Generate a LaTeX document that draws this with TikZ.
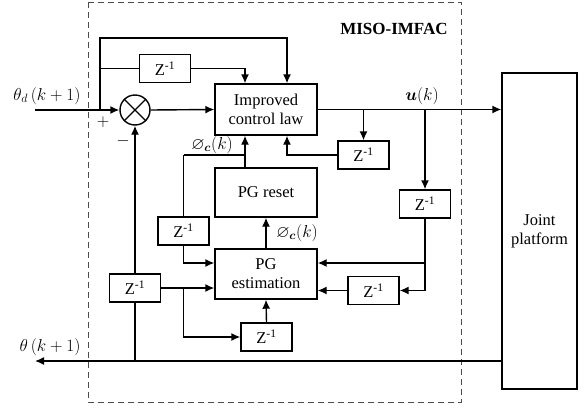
\documentclass[tikz,border=0pt]{standalone}
\usepackage{amsmath,amssymb}
\usepackage{fontspec}
\setmainfont{Liberation Serif}
\usetikzlibrary{arrows.meta,calc}
\begin{document}
\begin{tikzpicture}[x=1pt,y=-1pt,
  line width=1.4pt,
  blk/.style={draw, line width=1.4pt, align=center, inner sep=0pt, font=\fontsize{16.5}{19}\selectfont},
  zbox/.style={blk, minimum width=51, minimum height=28},
  arr/.style={-{Latex[length=9pt,width=8pt]}},
  lbl/.style={font=\fontsize{17}{19}\selectfont, inner sep=0pt}
]
\useasboundingbox (0,0) rectangle (584,410);
% dashed frame
\draw[dash pattern=on 6pt off 4pt, line width=1pt, black!70] (88,2) rectangle (461,402);
\node[font=\bfseries\fontsize{17}{19}\selectfont] (title) at (394,29) {MISO-IMFAC};

% blocks
\node[blk, minimum width=102, minimum height=51] (icl) at (266,109.5) {Improved\\control law};
\node[blk, minimum width=102, minimum height=49] (pgr) at (266,192.5) {PG reset};
\node[blk, minimum width=102, minimum height=50] (pge) at (266,274) {PG\\estimation};
\node[blk, minimum width=75, minimum height=316] (jp) at (539.5,231) {Joint\\platform};
\node[zbox] (z1) at (165,68.5) {Z\textsuperscript{-1}};
\node[zbox] (z2) at (363.5,155) {Z\textsuperscript{-1}};
\node[zbox] (z3) at (425,204) {Z\textsuperscript{-1}};
\node[zbox] (z4) at (183.5,231) {Z\textsuperscript{-1}};
\node[zbox] (z5) at (373.5,290.5) {Z\textsuperscript{-1}};
\node[zbox] (z6) at (135,288) {Z\textsuperscript{-1}};
\node[zbox] (z7) at (266.5,337) {Z\textsuperscript{-1}};
\node[draw, circle, line width=1.4pt, minimum size=30, inner sep=0pt] (sum) at (135,110) {};
\draw[line width=1.4pt] (sum.north west) -- (sum.south east) (sum.north east) -- (sum.south west);

% coordinates
\coordinate (in) at (35,110);
\coordinate (jA) at (100,110);
\coordinate (tl) at (100,38);
\coordinate (jz1) at (100,68.5);
\coordinate (b1) at (363.5,110);
\coordinate (b2) at (425,110);
\coordinate (b3) at (425,263);
\coordinate (c1) at (183.5,155);
\coordinate (c2) at (245,155);
\coordinate (d1) at (183.5,288);
\coordinate (fb) at (135,361);
\coordinate (out) at (35,361);

% connectors
\draw[arr] (in) -- (sum.west);
\draw[arr] (jA) -- (tl) -| ($(icl.north)+(21,0)$);
\draw (jz1) -- (z1.west);
\draw[arr] (z1.east) -| ($(icl.north)+(-21,0)$);
\draw[arr] (sum.east) -- (icl.west);
\draw[arr] (icl.east) -- (jp.west |- icl.east);
\draw[arr] (b1) -- (z2.north);
\draw[arr] (z2.west) -| ($(icl.south)+(21,0)$);
\draw[arr] (b2) -- (z3.north);
\draw (z3.south) -- (b3);
\draw[arr] (b3) -- (pge.east |- b3);
\draw[arr] (z3.south) |- (z5.east);
\draw[arr] (z5.west) -- (pge.east |- z5.west);
\draw[arr] ($(pgr.north)+(-21,0)$) -- ($(icl.south)+(-21,0)$);
\draw (c1) -- (c2);
\draw (c1) -- (z4.north);
\draw[arr] (z4.south) |- (pge.west |- b3);
\draw[arr] (pge.north) -- (pgr.south);
\draw[arr] (z6.north) -- (sum.south);
\draw (fb) -- (z6.south);
\draw[arr] (z6.east) -- (pge.west |- z6.east);
\draw[arr] (d1) |- (z7.west);
\draw[arr] (z7.north) -- (pge.south);
\draw[arr] (jp.west |- fb) -- (out);

% labels
\node[lbl] (plus) at (103,122) {$+$};
\node[lbl] (minus) at (123,141) {$-$};
\node[lbl] (thd) at (47,96) {$\theta_d\,(k+1)$};
\node[lbl] (th) at (50,347) {$\theta\,(k+1)$};
\node[lbl] (uk) at (422,96) {$\boldsymbol{u}(k)$};
\node[lbl] (phi1) at (212,145) {$\varnothing_{\boldsymbol{c}}(k)$};
\node[lbl] (phi2) at (297,233) {$\varnothing_{\boldsymbol{c}}(k)$};
\end{tikzpicture}
\end{document}
